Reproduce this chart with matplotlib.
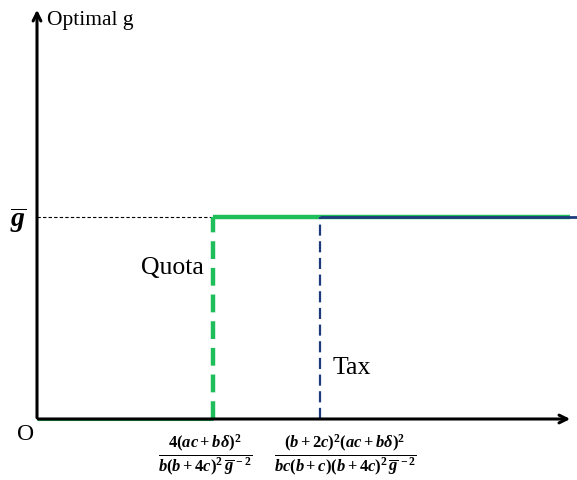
import matplotlib.pyplot as plt

plt.rcParams['font.family'] = 'Liberation Serif'
plt.rcParams['mathtext.fontset'] = 'custom'
plt.rcParams['mathtext.rm'] = 'Liberation Serif:bold'
plt.rcParams['mathtext.it'] = 'Liberation Serif:italic:bold'
plt.rcParams['mathtext.bf'] = 'Liberation Serif:bold'

# thresholds on the horizontal axis and the optimal level g-bar
quota_x = 1.76
tax_x = 2.83
g_bar = 2.02
x_end = 5.36
y_end = 4.12

quota_label = r'$\frac{4(ac+b\delta)^2}{b(b+4c)^2\,\overline{g}^{\,-2}}$'
tax_label = r'$\frac{(b+2c)^2(ac+b\delta)^2}{bc(b+c)(b+4c)^2\,\overline{g}^{\,-2}}$'

green = '#1ebf5a'
navy = '#1d3b7c'

fig = plt.figure(figsize=(5.77, 4.81), dpi=100)
ax = fig.add_axes([0, 0, 1, 1])
ax.set_xlim(-0.37, 5.40)
ax.set_ylim(-0.61, 4.20)
ax.axis('off')

# axes with arrows
ax.annotate('', xy=(0, y_end), xytext=(0, -0.015),
            arrowprops=dict(arrowstyle='->', lw=2.2, color='black', mutation_scale=14))
ax.annotate('', xy=(x_end, 0), xytext=(-0.015, 0),
            arrowprops=dict(arrowstyle='->', lw=2.2, color='black', mutation_scale=14))

# reference line at g-bar
ax.plot([0, quota_x], [g_bar, g_bar], color='black', lw=0.8, ls=(0, (3, 2)))

# quota policy
ax.plot([0, quota_x], [0, 0], color=green, lw=2.2, solid_capstyle='butt')
ax.plot([quota_x, quota_x], [0, g_bar], color=green, lw=3.2, ls=(0, (4, 2)))
ax.plot([quota_x, 5.33], [g_bar, g_bar], color=green, lw=3.2, solid_capstyle='butt')

# tax policy
ax.plot([tax_x, tax_x], [0, g_bar], color=navy, lw=1.6, ls=(0, (5, 2.5)))
ax.plot([tax_x, 5.45], [g_bar, g_bar], color=navy, lw=2.0, solid_capstyle='butt')

ax.text(0.10, 4.00, 'Optimal g', fontsize=15.5, va='center', ha='left')
ax.text(-0.11, -0.15, 'O', fontsize=17, va='center', ha='center')
ax.text(-0.19, g_bar - 0.02, r'$\overline{g}$', fontsize=20, va='center', ha='center')
ax.text(1.35, 1.52, 'Quota', fontsize=18.5, va='center', ha='center')
ax.text(3.15, 0.52, 'Tax', fontsize=18.5, va='center', ha='center')

ax.text(quota_x - 0.08, -0.36, quota_label, fontsize=17, va='center', ha='center')
ax.text(tax_x + 0.25, -0.36, tax_label, fontsize=17, va='center', ha='center')

fig.savefig('out.png', dpi=100)
